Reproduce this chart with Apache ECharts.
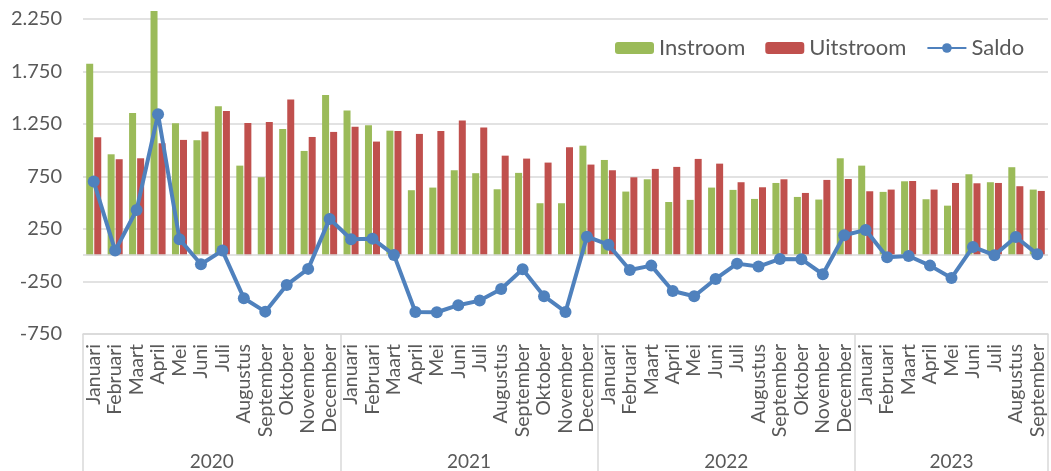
<!DOCTYPE html>
<html>
<head>
<meta charset="utf-8">
<script src="https://cdn.jsdelivr.net/npm/echarts@6/dist/echarts.min.js"></script>
<style>
  html, body { margin: 0; padding: 0; background: #fff; }
  #chart { width: 1051px; height: 471px; }
</style>
</head>
<body>
<div id="chart"></div>
<script>
const monthNames = ['Januari', 'Februari', 'Maart', 'April', 'Mei', 'Juni', 'Juli',
  'Augustus', 'September', 'Oktober', 'November', 'December'];
const years = ['2020', '2021', '2022', '2023'];
const monthsPerYear = [12, 12, 12, 9];

const instroom = [1824, 961, 1355, 2326, 1257, 1095, 1418, 853, 743, 1202, 993, 1526,
  1377, 1238, 1186, 619, 644, 809, 781, 628, 784, 495, 495, 1043,
  907, 606, 723, 507, 527, 644, 622, 536, 688, 555, 530, 923,
  853, 603, 704, 533, 472, 771, 695, 838, 625];
const uitstroom = [1123, 914, 923, 1066, 1098, 1177, 1374, 1260, 1269, 1482, 1126, 1174,
  1224, 1082, 1183, 1155, 1183, 1282, 1215, 948, 920, 882, 1028, 863,
  809, 742, 822, 841, 917, 872, 695, 647, 723, 593, 717, 726,
  609, 625, 707, 625, 688, 685, 688, 657, 612];
const saldo = [701, 44, 431, 1342, 152, -86, 44, -409, -537, -283, -130, 346,
  152, 158, 3, -540, -543, -476, -432, -321, -133, -390, -540, 177,
  100, -140, -99, -340, -390, -226, -80, -108, -35, -38, -181, 190,
  241, -19, -7, -99, -216, 79, 0, 174, 10];

// category list and year group centres (in month units)
const categories = [];
const yearCentres = {};
let start = 0;
years.forEach((y, i) => {
  for (let m = 0; m < monthsPerYear[i]; m++) categories.push(monthNames[m]);
  yearCentres[start + monthsPerYear[i] / 2] = y;
  start += monthsPerYear[i];
});

const font = 'Lato, "Open Sans", sans-serif';
const grey = '#595959';
const lineGrey = '#d9d9d9';

function dutch(v) {
  return String(v).replace(/\B(?=(\d{3})+(?!\d))/g, '.');
}

const chart = echarts.init(document.getElementById('chart'));
chart.setOption({
  animation: false,
  textStyle: { fontFamily: font },
  grid: { left: 83, right: -7, top: 0, bottom: 137 },
  legend: {
    left: 610,
    top: 32,
    itemWidth: 39,
    itemHeight: 12,
    itemGap: 20,
    textStyle: { fontSize: 22, color: grey, fontFamily: font },
    data: ['Instroom', 'Uitstroom', 'Saldo']
  },
  xAxis: [
    {
      type: 'category',
      data: categories,
      position: 'bottom',
      axisLine: { onZero: false, lineStyle: { color: lineGrey, width: 1.5 } },
      axisTick: { show: false },
      axisLabel: {
        interval: 0,
        rotate: 90,
        margin: 10,
        fontSize: 19.5,
        color: grey
      }
    },
    {
      // year labels, centred on each year group
      type: 'value',
      min: 0,
      max: start,
      interval: 1.5,
      position: 'bottom',
      axisLine: { show: false },
      axisTick: { show: false },
      splitLine: { show: false },
      axisLabel: {
        margin: 118,
        fontSize: 19,
        color: grey,
        formatter: (v) => yearCentres[v] || ''
      }
    },
    {
      // year separators
      type: 'value',
      min: 0,
      max: start,
      interval: 12,
      position: 'bottom',
      axisLine: { show: false },
      axisTick: { show: true, length: 140, lineStyle: { color: lineGrey, width: 1.5 } },
      splitLine: { show: false },
      axisLabel: { show: false }
    }
  ],
  yAxis: {
    type: 'value',
    min: -750,
    max: 2430,
    interval: 500,
    axisLine: { show: false },
    axisTick: { show: false },
    splitLine: { showMaxLine: false, lineStyle: { color: lineGrey, width: 1.5 } },
    axisLabel: {
      showMaxLabel: false,
      margin: 21,
      fontSize: 20,
      color: grey,
      formatter: dutch
    }
  },
  series: [
    {
      name: 'Instroom',
      type: 'bar',
      data: instroom,
      barWidth: 7,
      barGap: '15%',
      itemStyle: { color: '#9bbb59' },
      markLine: {
        silent: true,
        symbol: 'none',
        label: { show: false },
        lineStyle: { color: lineGrey, width: 1.5, type: 'solid' },
        data: [{ yAxis: 0 }]
      }
    },
    {
      name: 'Uitstroom',
      type: 'bar',
      data: uitstroom,
      barWidth: 7,
      barGap: '15%',
      itemStyle: { color: '#c0504d' }
    },
    {
      name: 'Saldo',
      type: 'line',
      data: saldo,
      z: 5,
      symbol: 'circle',
      symbolSize: 12,
      lineStyle: { color: '#4f81bd', width: 4 },
      itemStyle: { color: '#4f81bd' }
    }
  ]
});
</script>
</body>
</html>
